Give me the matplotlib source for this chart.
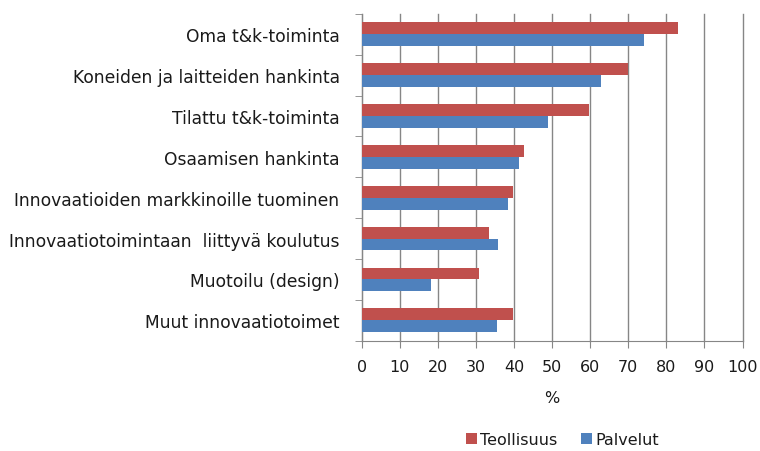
import matplotlib.pyplot as plt
import numpy as np

categories = ["Oma t&k-toiminta", "Koneiden ja laitteiden hankinta", "Tilattu t&k-toiminta",
              "Osaamisen hankinta", "Innovaatioiden markkinoille tuominen",
              "Innovaatiotoimintaan  liittyvä koulutus", "Muotoilu (design)", "Muut innovaatiotoimet"]
teollisuus = [83.1, 69.8, 59.8, 42.6, 39.8, 33.4, 30.8, 39.8]
palvelut = [74.2, 62.8, 48.9, 41.3, 38.4, 35.9, 18.2, 35.5]
xticks = list(range(0, 101, 10))

plt.rcParams["font.family"] = ["DejaVu Sans"]
fs = 11.5
txt = "#1a1a1a"

fig = plt.figure(figsize=(7.6, 4.52), dpi=100)
ax = fig.add_axes([0.476, 0.244, 0.501, 0.723])

y = np.arange(len(categories))[::-1]
h = 0.29
ax.barh(y + h / 2, teollisuus, height=h, color="#C0504D", label="Teollisuus", zorder=3)
ax.barh(y - h / 2, palvelut, height=h, color="#4F81BD", label="Palvelut", zorder=3)

ax.set_xlim(0, 100)
ax.set_ylim(-0.5, len(categories) - 0.5)
ax.set_xticks(xticks)
ax.set_xticklabels([str(v) for v in xticks], fontsize=fs, color=txt)
ax.set_yticks(y)
ax.set_yticklabels(categories, fontsize=12.3, color=txt)
ax.tick_params(axis="y", length=0, pad=16)
ax.set_yticks(np.arange(-0.5, len(categories), 1), minor=True)
ax.tick_params(axis="y", which="minor", length=5, color="#868686")
ax.tick_params(axis="x", length=5, color="#868686", pad=8)
ax.grid(axis="x", color="#868686", linewidth=1, zorder=0)
for line in ax.get_xgridlines():
    line.set_clip_on(False)
for s in ["top", "right"]:
    ax.spines[s].set_visible(False)
for s in ["left", "bottom"]:
    ax.spines[s].set_color("#868686")
ax.set_xlabel("%", fontsize=fs, color=txt, labelpad=12)

fig.legend(loc="center", bbox_to_anchor=(0.74, 0.026), ncol=2, frameon=False, fontsize=fs,
           handlelength=0.7, handleheight=0.7, columnspacing=1.5, handletextpad=0.2,
           labelcolor=txt)

fig.savefig("out.png")
